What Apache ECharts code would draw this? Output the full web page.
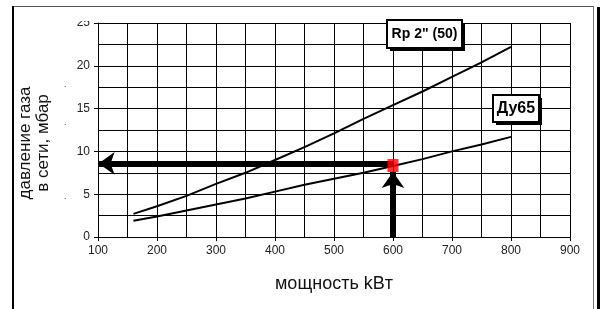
<!DOCTYPE html>
<html><head><meta charset="utf-8">
<script src="https://cdn.jsdelivr.net/npm/echarts@6/dist/echarts.min.js"></script>
<style>html,body{margin:0;padding:0;background:#fff}#c{width:604px;height:309px}</style>
</head><body><div id="c"></div>
<script>
const powerKW = [160, 200, 250, 300, 350, 400, 450, 500, 550, 600, 650, 700, 750, 800];
const rpValues = [2.7, 3.6, 4.8, 6.2, 7.5, 9.0, 10.5, 12.1, 13.8, 15.4, 17.0, 18.7, 20.4, 22.2];
const dyValues = [1.9, 2.4, 3.1, 3.8, 4.5, 5.3, 6.1, 6.8, 7.5, 8.3, 9.1, 10.0, 10.8, 11.7];
const seriesNames = ['Rp 2" (50)', 'Ду65'];
const opPoint = [600, 8.35];
const hArrow = [[600, 8.6], [101, 8.6]];
const vArrow = [[600, 0], [600, 7.6]];
const xTitle = 'мощность kBт';
const yTitle = 'давление газа\nв сети, мбар';

const F = '"Liberation Sans", Arial, sans-serif';
const chart = echarts.init(document.getElementById('c'), null, {renderer: 'canvas'});
const mk = v => powerKW.map((x, i) => [x, v[i]]);
chart.setOption({
  animation: false,
  backgroundColor: '#fff',
  grid: {left: 98, right: 34, top: 23, bottom: 72},
  xAxis: {
    type: 'value', min: 100, max: 900, interval: 100,
    name: xTitle, nameLocation: 'middle', nameGap: 38,
    nameTextStyle: {fontFamily: F, fontSize: 18, color: '#111'},
    axisLine: {onZero: false, lineStyle: {color: '#000', width: 1}},
    axisTick: {show: true, length: 4, lineStyle: {color: '#000'}},
    axisLabel: {fontFamily: F, fontSize: 12, color: '#222', margin: 8},
    splitLine: {show: true, lineStyle: {color: '#000', width: 1}},
    minorTick: {show: false, splitNumber: 2},
    minorSplitLine: {show: true, lineStyle: {color: '#000', width: 1}}
  },
  yAxis: {
    type: 'value', min: 0, max: 25, interval: 5,
    axisLine: {show: true, lineStyle: {color: '#000', width: 1}},
    axisTick: {show: true, length: 4, lineStyle: {color: '#000'}},
    axisLabel: {fontFamily: F, fontSize: 12, color: '#222', margin: 8},
    splitLine: {show: true, lineStyle: {color: '#000', width: 1}},
    minorTick: {show: false, splitNumber: 2},
    minorSplitLine: {show: true, lineStyle: {color: '#000', width: 1}}
  },
  series: [
    {name: seriesNames[0], type: 'line', data: mk(rpValues), symbol: 'none', smooth: false,
     lineStyle: {color: '#000', width: 2}, z: 3},
    {name: seriesNames[1], type: 'line', data: mk(dyValues), symbol: 'none', smooth: false,
     lineStyle: {color: '#000', width: 2}, z: 3},
    {type: 'line', data: [], z: 4,
     markLine: {silent: true, symbol: ['none', 'arrow'], symbolSize: [17, 16], label: {show: false},
       lineStyle: {color: '#000', width: 6, type: 'solid'},
       data: [[{coord: hArrow[0]}, {coord: hArrow[1]}], [{coord: vArrow[0]}, {coord: vArrow[1]}]]}},
    {type: 'scatter', data: [opPoint], symbol: 'rect', symbolSize: [11, 13],
     itemStyle: {color: '#ff0000'}, z: 5}
  ],
  graphic: [
    {type: 'rect', shape: {x: 12, y: 6, width: 582, height: 1}, style: {fill: '#555'}},
    {type: 'rect', shape: {x: 12, y: 6, width: 2, height: 310}, style: {fill: '#000'}},
    {type: 'rect', shape: {x: 593, y: 6, width: 1, height: 310}, style: {fill: '#777'}},
    {type: 'rect', shape: {x: 597, y: 7, width: 3, height: 310}, style: {fill: '#000'}},
    {type: 'rect', shape: {x: 60, y: 9, width: 36, height: 12}, style: {fill: '#fff'}, z: 100},
    {type: 'text', x: 34, y: 143, rotation: Math.PI / 2,
     style: {text: yTitle, font: '17px ' + F, fill: '#111', align: 'center', verticalAlign: 'middle', lineHeight: 18}},
    {type: 'text', x: 64, y: 80, style: {text: '.', font: '9px ' + F, fill: '#333'}},
    {type: 'text', x: 64, y: 118, style: {text: '.', font: '9px ' + F, fill: '#333'}},
    {type: 'text', x: 64, y: 192, style: {text: '.', font: '9px ' + F, fill: '#333'}},
    {type: 'rect', z: 100, shape: {x: 390, y: 23, width: 75, height: 28}, style: {fill: '#000'}},
    {type: 'rect', z: 101, shape: {x: 387, y: 20, width: 75, height: 28}, style: {fill: '#fff', stroke: '#000', lineWidth: 2}},
    {type: 'text', z: 102, x: 424.5, y: 34.5, style: {text: seriesNames[0], font: 'bold 14px ' + F, fill: '#000', align: 'center', verticalAlign: 'middle'}},
    {type: 'rect', z: 100, shape: {x: 496, y: 98, width: 46, height: 27}, style: {fill: '#000'}},
    {type: 'rect', z: 101, shape: {x: 493, y: 95, width: 46, height: 27}, style: {fill: '#fff', stroke: '#000', lineWidth: 2}},
    {type: 'text', z: 102, x: 516, y: 109, style: {text: seriesNames[1], font: 'bold 16px ' + F, fill: '#000', align: 'center', verticalAlign: 'middle'}}
  ]
});
</script></body></html>
